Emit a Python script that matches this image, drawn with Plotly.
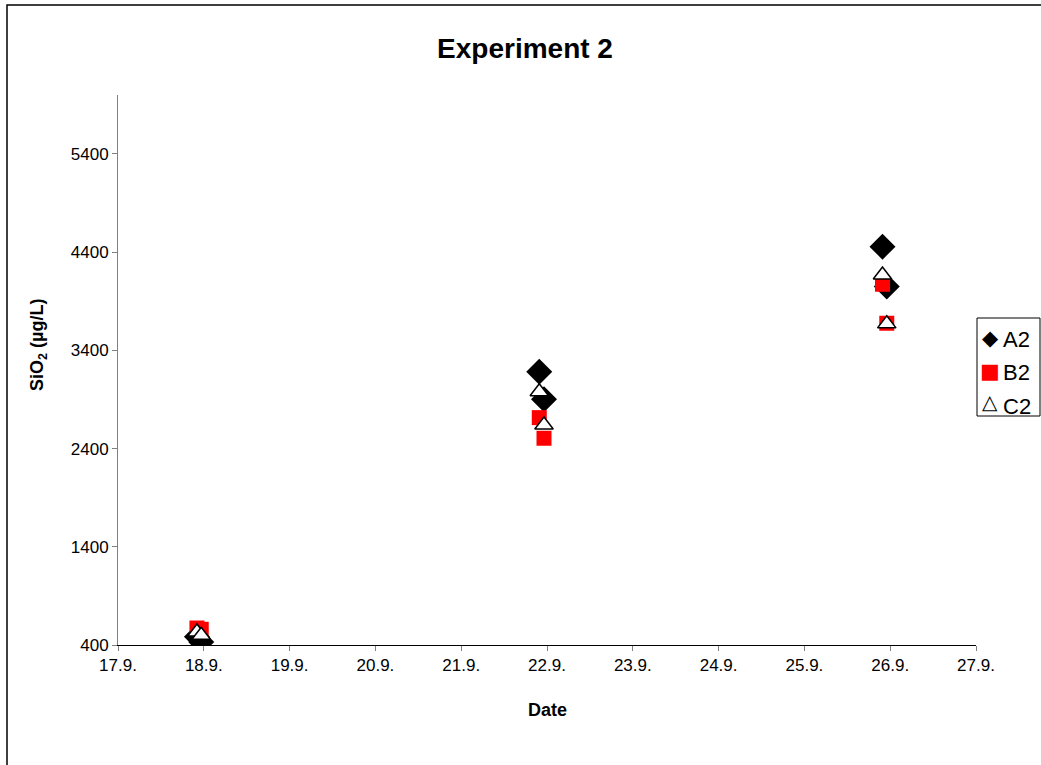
import plotly.graph_objects as go

# Sampling positions, in day of September (axis value 17 = "17.9.")
sample_day = [17.92, 17.97, 21.91, 21.965, 25.91, 25.96]

# SiO2 concentrations (µg/L)
A2 = [484, 430, 3183, 2902, 4456, 4049]
B2 = [573, 560, 2715, 2505, 4073, 3676]
C2 = [532, 500, 2979, 2640, 4168, 3670]

series_names = ["A2", "B2", "C2"]
legend_glyphs = ["◆", "■", "△"]
legend_colors = ["black", "#FF0000", "black"]

tick_days = list(range(17, 28))
tick_labels = [f"{d}.9." for d in tick_days]
y_ticks = [400, 1400, 2400, 3400, 4400, 5400]

FONT = "Arial, Liberation Sans, sans-serif"

# plot-area geometry (px)
L, R, T, B = 118, 65, 95, 120
W, H = 1041, 765
PW, PH = W - L - R, H - T - B


def px_x(x):
    return (x - L) / PW


def px_y(y):
    return (H - B - y) / PH


fig = go.Figure()
fig.add_trace(go.Scatter(
    x=sample_day, y=A2, mode="markers", name="A2",
    marker=dict(symbol="diamond", size=20, color="black",
                line=dict(color="black", width=0))))
fig.add_trace(go.Scatter(
    x=sample_day, y=B2, mode="markers", name="B2",
    marker=dict(symbol="square", size=15, color="#FF0000",
                line=dict(width=0))))
fig.add_trace(go.Scatter(
    x=sample_day, y=C2, mode="markers", name="C2",
    marker=dict(symbol="triangle-up", size=16, color="white",
                line=dict(color="black", width=1.5))))

annotations = [
    dict(text="<b>SiO<sub>2</sub> (µg/L)</b>", xref="paper", yref="paper",
         x=px_x(38), y=px_y(345), textangle=-90, showarrow=False,
         font=dict(size=18, family=FONT), xanchor="center", yanchor="middle"),
    dict(text="<b>Date</b>", xref="paper", yref="paper",
         x=px_x(547), y=px_y(710), showarrow=False,
         font=dict(size=18, family=FONT), xanchor="center", yanchor="middle"),
]
legend_y = [339, 373, 406]
legend_glyph_y = [338, 371, 402]
legend_glyph_sizes = [21, 21, 20]
for name, glyph, col, ly, gy, gs in zip(series_names, legend_glyphs, legend_colors,
                                        legend_y, legend_glyph_y, legend_glyph_sizes):
    annotations.append(dict(text=glyph, xref="paper", yref="paper",
                            x=px_x(990), y=px_y(gy), showarrow=False,
                            xanchor="center", yanchor="middle",
                            font=dict(size=gs, family="DejaVu Sans", color=col)))
    annotations.append(dict(text=name, xref="paper", yref="paper",
                            x=px_x(1001), y=px_y(ly), showarrow=False,
                            xanchor="left", yanchor="middle",
                            font=dict(size=22, family=FONT, color="black")))

fig.update_layout(
    width=W, height=H,
    margin=dict(l=L, r=R, t=T, b=B, autoexpand=False),
    paper_bgcolor="white", plot_bgcolor="white",
    font=dict(family=FONT, size=17, color="black"),
    title=dict(text="<b>Experiment 2</b>", x=525 / W, xref="container",
               y=1 - 48 / H, yref="container", yanchor="middle",
               xanchor="center", font=dict(size=28, family=FONT)),
    showlegend=False,
    xaxis=dict(range=[17, 27], tickmode="array", tickvals=tick_days,
               ticktext=tick_labels, showgrid=False, zeroline=False,
               showline=True, linecolor="black", linewidth=1,
               ticks="outside", ticklen=5, tickcolor="#808080",
               tickfont=dict(size=17, family=FONT)),
    yaxis=dict(range=[400, 6000], tickmode="array", tickvals=y_ticks,
               showgrid=False, zeroline=False,
               showline=True, linecolor="#808080", linewidth=1,
               ticks="outside", ticklen=5, tickcolor="#808080",
               tickfont=dict(size=17, family=FONT)),
    annotations=annotations,
    shapes=[
        dict(type="rect", xref="paper", yref="paper",
             x0=px_x(7), x1=px_x(1050), y0=px_y(780), y1=px_y(5),
             line=dict(color="black", width=1.5), fillcolor="rgba(0,0,0,0)",
             layer="below"),
        dict(type="rect", xref="paper", yref="paper",
             x0=px_x(977), x1=px_x(1040), y0=px_y(416), y1=px_y(318),
             line=dict(color="black", width=1), fillcolor="white",
             layer="above"),
    ],
)

fig.write_html("out.html", config={"displayModeBar": False},
               post_script="document.body.style.margin='0px';")
